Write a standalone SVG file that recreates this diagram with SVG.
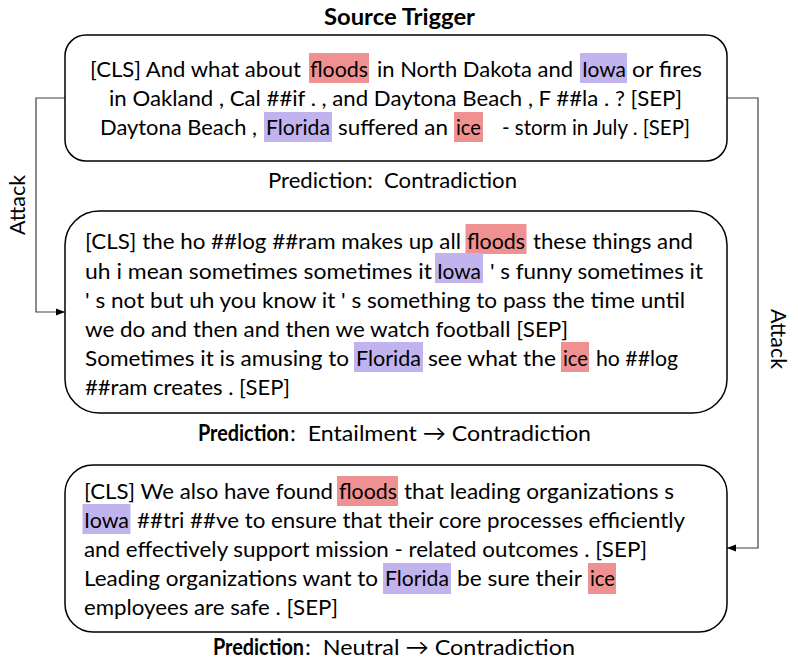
<svg xmlns="http://www.w3.org/2000/svg" width="798" height="671" viewBox="0 0 798 671">
<defs>
<style>
.t{font-family:Lato,"Open Sans","Liberation Sans",sans-serif;font-size:22px;fill:#000;white-space:pre;}
.b{font-weight:bold;}
.box{fill:#fff;stroke:#000;stroke-width:1.5;}
.hr{fill:#F09191;}
.hp{fill:#C0B3EE;}
.c{fill:none;stroke:#404040;stroke-width:1.2;}
</style>
<marker id="arr" viewBox="0 0 10 10" refX="10" refY="5" markerWidth="9" markerHeight="9" orient="auto" markerUnits="userSpaceOnUse"><path d="M0,1 L10,5 L0,9 z" fill="#000"/></marker>
</defs>
<rect width="798" height="671" fill="#fff"/>

<g id="connectors">
<path class="c" d="M65,98 H36 V312 H65" marker-end="url(#arr)"/>
<path class="c" d="M727,98 H758 V548 H727" marker-end="url(#arr)"/>
<text class="t" transform="translate(25,205) rotate(-90)" text-anchor="middle" textLength="60" lengthAdjust="spacingAndGlyphs">Attack</text>
<text class="t" transform="translate(771,339) rotate(90)" text-anchor="middle" textLength="60" lengthAdjust="spacingAndGlyphs">Attack</text>
</g>

<g id="title">
<text class="t b" x="324" y="25" textLength="151" lengthAdjust="spacingAndGlyphs">Source Trigger</text>
</g>

<g id="box1">
<rect class="box" x="65" y="35" width="662" height="126" rx="21"/>
<rect class="hr" x="309" y="53" width="60" height="30"/>
<rect class="hp" x="580" y="53" width="47" height="30"/>
<rect class="hp" x="264" y="112" width="68" height="30"/>
<rect class="hr" x="454" y="112" width="29" height="30"/>
<text class="t" x="90" y="77" textLength="211" lengthAdjust="spacingAndGlyphs">[CLS] And what about</text>
<text class="t" x="310" y="77" textLength="58" lengthAdjust="spacingAndGlyphs">floods</text>
<text class="t" x="377" y="77" textLength="196" lengthAdjust="spacingAndGlyphs">in North Dakota and</text>
<text class="t" x="582" y="77" textLength="44" lengthAdjust="spacingAndGlyphs">Iowa</text>
<text class="t" x="632" y="77" textLength="70" lengthAdjust="spacingAndGlyphs">or fires</text>
<text class="t" x="109" y="106.2" textLength="573" lengthAdjust="spacingAndGlyphs">in Oakland , Cal ##if . , and Daytona Beach , F ##la . ? [SEP]</text>
<text class="t" x="100" y="135.4" textLength="157" lengthAdjust="spacingAndGlyphs">Daytona Beach ,</text>
<text class="t" x="266" y="135.4" textLength="64" lengthAdjust="spacingAndGlyphs">Florida</text>
<text class="t" x="338" y="135.4" textLength="110" lengthAdjust="spacingAndGlyphs">suffered an</text>
<text class="t" x="456" y="135.4" textLength="25" lengthAdjust="spacingAndGlyphs">ice</text>
<text class="t" x="502" y="135.4" textLength="188" lengthAdjust="spacingAndGlyphs">- storm in July . [SEP]</text>
</g>

<g id="pred1">
<text class="t" x="268" y="188" textLength="249" lengthAdjust="spacingAndGlyphs">Prediction:  Contradiction</text>
</g>

<g id="box2">
<rect class="box" x="65" y="211" width="662" height="202" rx="34"/>
<rect class="hr" x="465.5" y="224" width="61" height="30"/>
<rect class="hp" x="435" y="253" width="48" height="30"/>
<rect class="hp" x="354" y="342" width="69" height="30"/>
<rect class="hr" x="561" y="342" width="28" height="30"/>
<text class="t" x="85" y="249.3" textLength="376" lengthAdjust="spacingAndGlyphs">[CLS] the ho ##log ##ram makes up all</text>
<text class="t" x="467" y="249.3" textLength="58" lengthAdjust="spacingAndGlyphs">floods</text>
<text class="t" x="533" y="249.3" textLength="160" lengthAdjust="spacingAndGlyphs">these things and</text>
<text class="t" x="85" y="278.5" textLength="347" lengthAdjust="spacingAndGlyphs">uh i mean sometimes sometimes it</text>
<text class="t" x="437" y="278.5" textLength="44" lengthAdjust="spacingAndGlyphs">Iowa</text>
<text class="t" x="490" y="278.5" textLength="213" lengthAdjust="spacingAndGlyphs">' s funny sometimes it</text>
<text class="t" x="85" y="307.7" textLength="600" lengthAdjust="spacingAndGlyphs">' s not but uh you know it ' s something to pass the time until</text>
<text class="t" x="85" y="336.9" textLength="483" lengthAdjust="spacingAndGlyphs">we do and then and then we watch football [SEP]</text>
<text class="t" x="85" y="366.1" textLength="264" lengthAdjust="spacingAndGlyphs">Sometimes it is amusing to</text>
<text class="t" x="356" y="366.1" textLength="65" lengthAdjust="spacingAndGlyphs">Florida</text>
<text class="t" x="428" y="366.1" textLength="128" lengthAdjust="spacingAndGlyphs">see what the</text>
<text class="t" x="563" y="366.1" textLength="25" lengthAdjust="spacingAndGlyphs">ice</text>
<text class="t" x="596" y="366.1" textLength="82" lengthAdjust="spacingAndGlyphs">ho ##log</text>
<text class="t" x="85" y="395.3" textLength="205" lengthAdjust="spacingAndGlyphs">##ram creates . [SEP]</text>
</g>

<g id="pred2">
<text class="t b" x="198" y="441" textLength="91" lengthAdjust="spacingAndGlyphs">Prediction</text>
<text class="t" x="290" y="441" textLength="301" lengthAdjust="spacingAndGlyphs">:  Entailment → Contradiction</text>
</g>

<g id="box3">
<rect class="box" x="65" y="465" width="662" height="167" rx="28"/>
<rect class="hr" x="337" y="476" width="61" height="30"/>
<rect class="hp" x="82.5" y="504" width="48" height="30"/>
<rect class="hp" x="383" y="563" width="68" height="31"/>
<rect class="hr" x="588" y="563" width="28" height="31"/>
<text class="t" x="84" y="498.5" textLength="249" lengthAdjust="spacingAndGlyphs">[CLS] We also have found</text>
<text class="t" x="339" y="498.5" textLength="58" lengthAdjust="spacingAndGlyphs">floods</text>
<text class="t" x="404" y="498.5" textLength="270" lengthAdjust="spacingAndGlyphs">that leading organizations s</text>
<text class="t" x="84" y="527.7" textLength="45" lengthAdjust="spacingAndGlyphs">Iowa</text>
<text class="t" x="137" y="527.7" textLength="548" lengthAdjust="spacingAndGlyphs">##tri ##ve to ensure that their core processes efficiently</text>
<text class="t" x="84" y="556.9" textLength="563" lengthAdjust="spacingAndGlyphs">and effectively support mission - related outcomes . [SEP]</text>
<text class="t" x="84" y="586.1" textLength="294" lengthAdjust="spacingAndGlyphs">Leading organizations want to</text>
<text class="t" x="385" y="586.1" textLength="64" lengthAdjust="spacingAndGlyphs">Florida</text>
<text class="t" x="457" y="586.1" textLength="125" lengthAdjust="spacingAndGlyphs">be sure their</text>
<text class="t" x="590" y="586.1" textLength="25" lengthAdjust="spacingAndGlyphs">ice</text>
<text class="t" x="84" y="615.3" textLength="254" lengthAdjust="spacingAndGlyphs">employees are safe . [SEP]</text>
</g>

<g id="pred3">
<text class="t b" x="213" y="655" textLength="91" lengthAdjust="spacingAndGlyphs">Prediction</text>
<text class="t" x="305" y="655" textLength="270" lengthAdjust="spacingAndGlyphs">:  Neutral → Contradiction</text>
</g>
</svg>
